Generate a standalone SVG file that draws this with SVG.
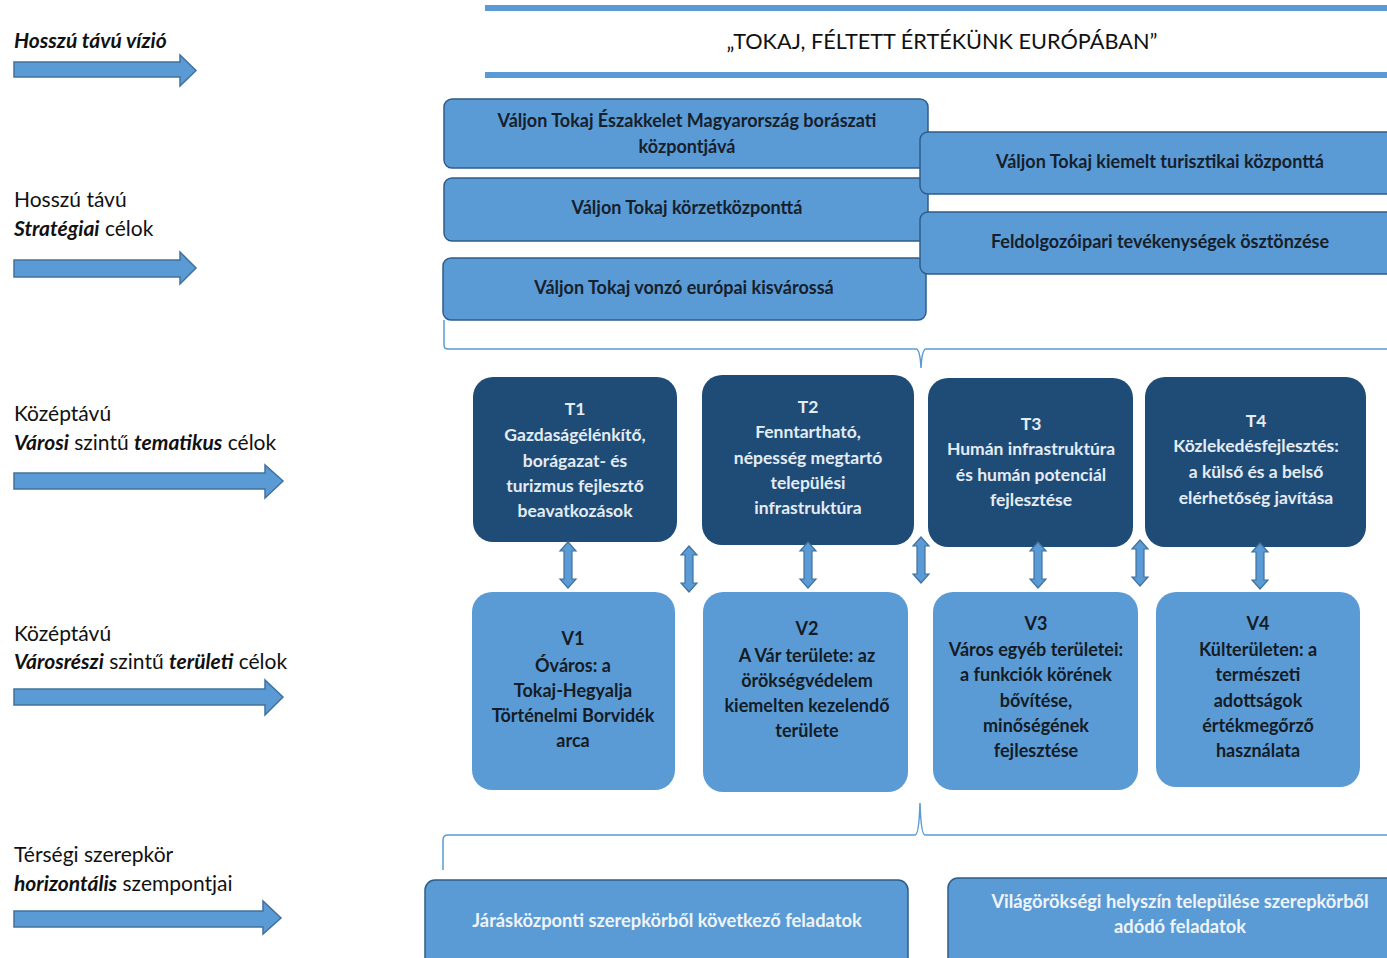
<svg xmlns="http://www.w3.org/2000/svg" xmlns:xlink="http://www.w3.org/1999/xlink" width="1387" height="958" viewBox="0 0 1387 958">
<style>
text{font-family:Lato,"Liberation Sans",sans-serif;}
.lbl{font-size:21px;fill:#111;}
.bi{font-weight:700;font-style:italic;}
.sbox{fill:#5b9bd5;stroke:#2f5c88;stroke-width:1.5;}
.stxt{font-size:18px;font-weight:700;fill:#16202c;text-anchor:middle;}
.tbox{fill:#1f4b77;}
.ttxt{font-size:17.5px;font-weight:700;fill:#e4ecf4;text-anchor:middle;}
.vbox{fill:#5b9bd5;}
.vtxt{font-size:18px;font-weight:700;fill:#141c26;text-anchor:middle;}
.btxt{font-size:18.3px;font-weight:700;fill:#eef4fa;text-anchor:middle;}
.larr{fill:#5b9bd5;stroke:#41719c;stroke-width:1.5;}
.brace{fill:none;stroke:#5b9bd5;stroke-width:1.5;}
.dbl{fill:#5b9bd5;stroke:#41719c;stroke-width:1.2;}
</style>
<defs>
<path id="dbl" class="dbl" d="M0,0 L8,9 L4,9 L4,37 L8,37 L0,46 L-8,37 L-4,37 L-4,9 L-8,9 Z"/>
</defs>
<rect width="1387" height="958" fill="#fff"/>

<g id="labels">
<text class="lbl" x="14" y="48"><tspan class="bi">Hosszú távú vízió</tspan></text>
<text class="lbl" x="14" y="207">Hosszú távú</text>
<text class="lbl" x="14" y="236"><tspan class="bi">Stratégiai</tspan> célok</text>
<text class="lbl" x="14" y="421">Középtávú</text>
<text class="lbl" x="14" y="450"><tspan class="bi">Városi</tspan> szintű <tspan class="bi">tematikus</tspan> célok</text>
<text class="lbl" x="14" y="641">Középtávú</text>
<text class="lbl" x="14" y="669"><tspan class="bi">Városrészi</tspan> szintű <tspan class="bi">területi</tspan> célok</text>
<text class="lbl" x="14" y="862">Térségi szerepkör</text>
<text class="lbl" x="14" y="891"><tspan class="bi">horizontális</tspan> szempontjai</text>
</g>

<g id="level-arrows">
<path class="larr" d="M14,62 H180 V55 L196,70.5 L180,86 V77 H14 Z"/>
<path class="larr" d="M14,260 H180 V252 L196,268 L180,284 V277 H14 Z"/>
<path class="larr" d="M14,473 H265 V465 L283,481 L265,498 V489 H14 Z"/>
<path class="larr" d="M14,689 H265 V680 L283,697 L265,715 V705 H14 Z"/>
<path class="larr" d="M14,911 H263 V901 L281,918 L263,934 V927 H14 Z"/>
</g>

<g id="vision">
<rect x="485" y="5" width="902" height="6" fill="#5b9bd5"/>
<rect x="485" y="72" width="902" height="6" fill="#5b9bd5"/>
<text x="942" y="49" style="font-size:21.7px;fill:#111;text-anchor:middle">„TOKAJ, FÉLTETT ÉRTÉKÜNK EURÓPÁBAN”</text>
</g>

<g id="strategic-A">
<rect class="sbox" x="444" y="99" width="484" height="69" rx="8"/>
<text class="stxt" x="687" y="127">Váljon Tokaj Északkelet Magyarország borászati</text>
<text class="stxt" x="687" y="153">központjává</text>
</g>
<g id="strategic-B">
<rect class="sbox" x="444" y="178" width="484" height="63" rx="8"/>
<text class="stxt" x="687" y="214">Váljon Tokaj körzetközponttá</text>
</g>
<g id="strategic-C">
<rect class="sbox" x="443" y="258" width="483" height="62" rx="8"/>
<text class="stxt" x="684" y="294">Váljon Tokaj vonzó európai kisvárossá</text>
</g>
<g id="strategic-D">
<rect class="sbox" x="920" y="132" width="480" height="62" rx="8"/>
<text class="stxt" x="1160" y="168">Váljon Tokaj kiemelt turisztikai központtá</text>
</g>
<g id="strategic-E">
<rect class="sbox" x="920" y="212" width="480" height="62" rx="8"/>
<text class="stxt" x="1160" y="248">Feldolgozóipari tevékenységek ösztönzése</text>
</g>

<g id="T1">
<rect class="tbox" x="473" y="377" width="204" height="165" rx="20"/>
<text class="ttxt" x="575" y="415">T1</text>
<text class="ttxt" x="575" y="441">Gazdaságélénkítő,</text>
<text class="ttxt" x="575" y="467">borágazat- és</text>
<text class="ttxt" x="575" y="492">turizmus fejlesztő</text>
<text class="ttxt" x="575" y="517">beavatkozások</text>
</g>
<g id="T2">
<rect class="tbox" x="702" y="375" width="212" height="170" rx="20"/>
<text class="ttxt" x="808" y="413">T2</text>
<text class="ttxt" x="808" y="438">Fenntartható,</text>
<text class="ttxt" x="808" y="464">népesség megtartó</text>
<text class="ttxt" x="808" y="489">települési</text>
<text class="ttxt" x="808" y="514">infrastruktúra</text>
</g>
<g id="T3">
<rect class="tbox" x="928" y="378" width="205" height="169" rx="20"/>
<text class="ttxt" x="1031" y="430">T3</text>
<text class="ttxt" x="1031" y="455">Humán infrastruktúra</text>
<text class="ttxt" x="1031" y="481">és humán potenciál</text>
<text class="ttxt" x="1031" y="506">fejlesztése</text>
</g>
<g id="T4">
<rect class="tbox" x="1145" y="377" width="221" height="170" rx="20"/>
<text class="ttxt" x="1256" y="427">T4</text>
<text class="ttxt" x="1256" y="452">Közlekedésfejlesztés:</text>
<text class="ttxt" x="1256" y="478">a külső és a belső</text>
<text class="ttxt" x="1256" y="504">elérhetőség javítása</text>
</g>

<g id="V1">
<rect class="vbox" x="472" y="592" width="203" height="198" rx="20"/>
<text class="vtxt" x="573" y="645">V1</text>
<text class="vtxt" x="573" y="672">Óváros: a</text>
<text class="vtxt" x="573" y="697">Tokaj-Hegyalja</text>
<text class="vtxt" x="573" y="722">Történelmi Borvidék</text>
<text class="vtxt" x="573" y="747">arca</text>
</g>
<g id="V2">
<rect class="vbox" x="703" y="592" width="205" height="200" rx="20"/>
<text class="vtxt" x="807" y="635">V2</text>
<text class="vtxt" x="807" y="662">A Vár területe: az</text>
<text class="vtxt" x="807" y="687">örökségvédelem</text>
<text class="vtxt" x="807" y="712">kiemelten kezelendő</text>
<text class="vtxt" x="807" y="737">területe</text>
</g>
<g id="V3">
<rect class="vbox" x="933" y="592" width="205" height="198" rx="20"/>
<text class="vtxt" x="1036" y="630">V3</text>
<text class="vtxt" x="1036" y="656">Város egyéb területei:</text>
<text class="vtxt" x="1036" y="681">a funkciók körének</text>
<text class="vtxt" x="1036" y="707">bővítése,</text>
<text class="vtxt" x="1036" y="732">minőségének</text>
<text class="vtxt" x="1036" y="757">fejlesztése</text>
</g>
<g id="V4">
<rect class="vbox" x="1156" y="592" width="204" height="195" rx="20"/>
<text class="vtxt" x="1258" y="630">V4</text>
<text class="vtxt" x="1258" y="656">Külterületen: a</text>
<text class="vtxt" x="1258" y="681">természeti</text>
<text class="vtxt" x="1258" y="707">adottságok</text>
<text class="vtxt" x="1258" y="732">értékmegőrző</text>
<text class="vtxt" x="1258" y="757">használata</text>
</g>

<g id="horizontal-F">
<rect class="sbox" x="425" y="880" width="483" height="100" rx="10"/>
<text class="btxt" x="667" y="927">Járásközponti szerepkörből következő feladatok</text>
</g>
<g id="horizontal-G">
<rect class="sbox" x="948" y="878" width="460" height="100" rx="10"/>
<text class="btxt" x="1180" y="908">Világörökségi helyszín települése szerepkörből</text>
<text class="btxt" x="1180" y="933">adódó feladatok</text>
</g>

<g id="connectors">
<path class="brace" d="M444,320 V345 Q444,349 448,349 H916 Q920,349 921,368 Q922,349 926,349 H1387"/>
<path class="brace" d="M443,870 V840 Q443,835 448,835 H915 Q919,835 920,803 Q921,835 925,835 H1387"/>
<use xlink:href="#dbl" x="568" y="542"/>
<use xlink:href="#dbl" x="689" y="546"/>
<use xlink:href="#dbl" x="808" y="542"/>
<use xlink:href="#dbl" x="921" y="537"/>
<use xlink:href="#dbl" x="1038" y="542"/>
<use xlink:href="#dbl" x="1140" y="540"/>
<use xlink:href="#dbl" x="1260" y="543"/>
</g>
</svg>
